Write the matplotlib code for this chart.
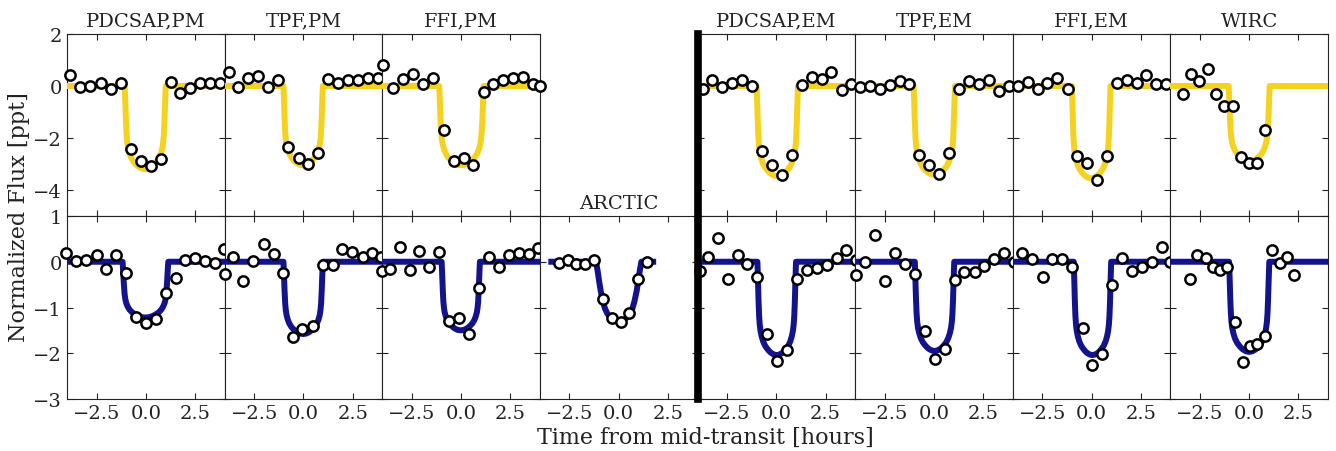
import numpy as np
import matplotlib
matplotlib.use("Agg")
import matplotlib.pyplot as plt
from matplotlib.lines import Line2D

plt.rcParams['font.family'] = ['DejaVu Serif']
plt.rcParams['mathtext.fontset'] = 'dejavuserif'

# ---------------- data ----------------
TOP_TITLES = ["PDCSAP,PM", "TPF,PM", "FFI,PM", "PDCSAP,EM", "TPF,EM", "FFI,EM", "WIRC"]
BOTTOM_TITLES = ["", "", "", "ARCTIC", "", "", "", ""]

# top row (yellow) binned points
top_pdcsap_pm_t = [-3.83, -3.32, -2.81, -2.29, -1.78, -1.27, -0.76, -0.24, 0.27, 0.76, 1.27, 1.76, 2.26, 2.77, 3.26, 3.75]
top_pdcsap_pm_f = [0.41, -0.03, -0.01, 0.13, -0.12, 0.10, -2.41, -2.90, -3.09, -2.81, 0.16, -0.26, -0.07, 0.12, 0.10, 0.10]
top_tpf_pm_t = [-3.79, -3.30, -2.80, -2.29, -1.78, -1.27, -0.76, -0.25, 0.24, 0.75, 1.26, 1.77, 2.27, 2.76, 3.27, 3.76]
top_tpf_pm_f = [0.54, -0.03, 0.29, 0.39, -0.03, 0.25, -2.36, -2.77, -3.00, -2.58, 0.26, 0.10, 0.22, 0.22, 0.29, 0.31]
top_ffi_pm_t = [-3.95, -3.44, -2.93, -2.42, -1.91, -1.40, -0.89, -0.38, 0.13, 0.61, 1.15, 1.63, 2.14, 2.65, 3.16, 3.65, 4.00]
top_ffi_pm_f = [0.79, -0.06, 0.26, 0.48, 0.08, 0.32, -1.69, -2.87, -2.77, -3.05, -0.22, 0.07, 0.25, 0.29, 0.35, 0.07, 0.00]
top_pdcsap_em_t = [-3.73, -3.24, -2.74, -2.23, -1.74, -1.25, -0.74, -0.23, 0.28, 0.79, 1.30, 1.80, 2.31, 2.80, 3.31, 3.80]
top_pdcsap_em_f = [-0.10, 0.22, -0.03, 0.10, 0.25, -0.01, -2.51, -3.05, -3.43, -2.66, 0.03, 0.35, 0.26, 0.54, -0.16, 0.06]
top_tpf_em_t = [-3.73, -3.26, -2.74, -2.23, -1.72, -1.25, -0.74, -0.24, 0.27, 0.78, 1.29, 1.80, 2.29, 2.80, 3.31, 3.80]
top_tpf_em_f = [-0.03, 0.01, -0.12, 0.03, 0.18, 0.06, -2.66, -3.05, -3.37, -2.58, -0.10, 0.18, 0.07, 0.22, -0.20, 0.01]
top_ffi_em_t = [-3.74, -3.23, -2.72, -2.24, -1.73, -1.22, -0.73, -0.23, 0.26, 0.77, 1.28, 1.79, 2.30, 2.77, 3.28, 3.79]
top_ffi_em_f = [0.01, 0.16, -0.10, 0.10, 0.29, -0.10, -2.70, -2.98, -3.62, -2.70, 0.12, 0.25, 0.10, 0.44, 0.07, 0.07]
top_wirc_t = [-3.38, -2.97, -2.54, -2.11, -1.70, -1.28, -0.83, -0.42, 0.00, 0.41, 0.82]
top_wirc_f = [-0.32, 0.48, 0.20, 0.64, -0.29, -0.77, -0.77, -2.73, -2.96, -2.96, -1.71]

# bottom row (blue) binned points
bot_pdcsap_pm_t = [-4.04, -3.53, -3.02, -2.50, -2.03, -1.52, -1.01, -0.52, 0.00, 0.51, 1.02, 1.53, 2.00, 2.51, 3.02, 3.53, 3.99]
bot_pdcsap_pm_f = [0.20, 0.02, 0.04, 0.15, -0.16, 0.14, -0.25, -1.20, -1.33, -1.25, -0.68, -0.35, 0.04, 0.08, 0.02, -0.03, 0.27]
bot_tpf_pm_t = [-4.00, -3.55, -3.05, -2.55, -2.02, -1.51, -1.03, -0.52, -0.05, 0.46, 0.97, 1.48, 1.98, 2.49, 3.00, 3.50, 3.93]
bot_tpf_pm_f = [-0.26, 0.11, -0.41, 0.02, 0.38, 0.18, -0.25, -1.64, -1.46, -1.40, -0.08, -0.08, 0.27, 0.22, 0.10, 0.20, 0.11]
bot_ffi_pm_t = [-4.00, -3.60, -3.10, -2.61, -2.12, -1.61, -1.10, -0.60, -0.09, 0.40, 0.91, 1.40, 1.91, 2.42, 2.93, 3.44, 3.92]
bot_ffi_pm_f = [-0.21, -0.16, 0.33, -0.18, 0.24, -0.12, 0.21, -1.29, -1.24, -1.57, -0.58, 0.11, -0.12, 0.14, 0.19, 0.17, 0.30]
bot_arctic_t = [-3.05, -2.58, -2.15, -1.69, -1.25, -0.79, -0.33, 0.10, 0.52, 0.96, 1.42]
bot_arctic_f = [-0.03, 0.03, -0.05, -0.05, 0.03, -0.82, -1.22, -1.31, -1.13, -0.37, 0.00]
bot_pdcsap_em_t = [-3.87, -3.49, -2.98, -2.47, -1.96, -1.48, -0.97, -0.46, 0.05, 0.54, 1.07, 1.54, 2.05, 2.55, 3.06, 3.55, 4.04]
bot_pdcsap_em_f = [-0.21, 0.10, 0.52, -0.38, 0.15, -0.05, -0.34, -1.59, -2.17, -1.93, -0.38, -0.19, -0.14, -0.07, 0.09, 0.25, 0.04]
bot_tpf_em_t = [-3.97, -3.51, -3.00, -2.49, -1.98, -1.47, -0.96, -0.45, 0.06, 0.54, 1.05, 1.54, 2.07, 2.56, 3.07, 3.55, 4.06]
bot_tpf_em_f = [-0.30, 0.00, 0.59, -0.42, 0.19, -0.05, -0.27, -1.52, -2.12, -1.91, -0.40, -0.23, -0.23, -0.09, 0.06, 0.19, -0.01]
bot_ffi_em_t = [-3.52, -3.01, -2.49, -2.00, -1.49, -0.98, -0.45, 0.04, 0.55, 1.06, 1.55, 2.05, 2.56, 3.07, 3.58, 4.00]
bot_ffi_em_f = [0.19, 0.06, -0.33, 0.06, 0.06, -0.11, -1.44, -2.25, -2.01, -0.51, 0.08, -0.20, -0.11, -0.01, 0.33, -0.01]
bot_wirc_t = [-3.01, -2.64, -2.21, -1.85, -1.47, -1.11, -0.71, -0.32, 0.02, 0.39, 0.78, 1.16, 1.55, 1.93, 2.27]
bot_wirc_f = [-0.38, 0.15, 0.08, -0.12, -0.19, -0.12, -1.31, -2.20, -1.84, -1.80, -1.63, 0.26, -0.03, 0.10, -0.29]

# transit model: half profile (ingress -> mid-transit),
# in units of the half-duration (x) and of the depth (y)
profile_x = [-1.00, -0.97, -0.94, -0.91, -0.88, -0.84, -0.78, -0.70, -0.60, -0.50, -0.40, -0.30, -0.15, 0.00]
profile_y = [0.00, -0.20, -0.42, -0.58, -0.67, -0.74, -0.80, -0.855, -0.90, -0.93, -0.955, -0.975, -0.994, -1.00]
arctic_profile_x = [-1.00, -0.93, -0.86, -0.79, -0.70, -0.61, -0.50, -0.31, -0.15, 0.00]
arctic_profile_y = [0.00, -0.15, -0.33, -0.49, -0.65, -0.77, -0.86, -0.94, -0.985, -1.00]

top_depth = [3.20, 3.05, 3.05, 3.47, 3.42, 3.55, 2.90]
top_halfwidth = [1.04, 1.00, 1.13, 1.05, 1.05, 0.98, 1.04]
top_center = [-0.03, -0.015, 0.02, 0.05, 0.02, -0.02, 0.00]
bot_depth = [1.22, 1.58, 1.50, 1.32, 2.04, 1.95, 2.04, 1.97]
bot_halfwidth = [1.16, 1.00, 0.97, 1.15, 0.98, 1.00, 0.95, 1.02]
bot_center = [-0.02, -0.015, -0.015, 0.00, 0.02, 0.03, 0.045, 0.00]
model_span = [-4.0, 4.0]
arctic_span = [-3.42, 1.75]

x_ticks = [-2.5, 0.0, 2.5]
top_yticks = [-4, -2, 0, 2]
bot_yticks = [-3, -2, -1, 0, 1]

# ---------------- styling ----------------
YELLOW = '#F5D21F'
NAVY = '#13138C'
TXT = '#222222'
W, H = 1336, 452
fig = plt.figure(figsize=(W / 100, H / 100), dpi=100)

left_px, right_px = 67, 1328
top_px, mid_px, bot_px = 35, 217, 400
col_w = (right_px - left_px) / 8


def ax_rect(col, y0, y1):
    return [(left_px + col * col_w) / W, 1 - y1 / H, col_w / W, (y1 - y0) / H]


def model_curve(depth, hw, c, span, px, py):
    px = np.asarray(px); py = np.asarray(py)
    xs = np.concatenate([[span[0]], c + hw * px, c - hw * px[::-1][1:], [span[1]]])
    ys = np.concatenate([[0.0], depth * py, depth * py[::-1][1:], [0.0]])
    return xs, ys


def style_axes(ax, yticks, ylim, show_x, show_y):
    ax.set_xlim(-4, 4)
    ax.set_ylim(*ylim)
    ax.set_xticks(x_ticks)
    ax.set_yticks(yticks)
    ax.tick_params(direction='in', top=True, right=True, length=4, width=0.8,
                   labelsize=14, colors=TXT, labelcolor=TXT)
    if not show_x:
        ax.tick_params(labelbottom=False)
    if not show_y:
        ax.tick_params(labelleft=False)
    for s in ax.spines.values():
        s.set_linewidth(0.8)
        s.set_color(TXT)


def plot_points(ax, t, f):
    ax.plot(t, f, 'o', ms=7.4, mfc='white', mec='black', mew=1.8,
            clip_on=False, zorder=5)


top_cols = [0, 1, 2, 4, 5, 6, 7]
top_data = [(top_pdcsap_pm_t, top_pdcsap_pm_f), (top_tpf_pm_t, top_tpf_pm_f),
            (top_ffi_pm_t, top_ffi_pm_f), (top_pdcsap_em_t, top_pdcsap_em_f),
            (top_tpf_em_t, top_tpf_em_f), (top_ffi_em_t, top_ffi_em_f),
            (top_wirc_t, top_wirc_f)]
bot_data = [(bot_pdcsap_pm_t, bot_pdcsap_pm_f), (bot_tpf_pm_t, bot_tpf_pm_f),
            (bot_ffi_pm_t, bot_ffi_pm_f), (bot_arctic_t, bot_arctic_f),
            (bot_pdcsap_em_t, bot_pdcsap_em_f), (bot_tpf_em_t, bot_tpf_em_f),
            (bot_ffi_em_t, bot_ffi_em_f), (bot_wirc_t, bot_wirc_f)]

# top row
for i, col in enumerate(top_cols):
    ax = fig.add_axes(ax_rect(col, top_px, mid_px))
    xs, ys = model_curve(top_depth[i], top_halfwidth[i], top_center[i], model_span,
                         profile_x, profile_y)
    ax.plot(xs, ys, color=YELLOW, lw=4.3, solid_joinstyle='round', zorder=3)
    t, f = top_data[i]
    plot_points(ax, t, f)
    style_axes(ax, top_yticks, (-5, 2), False, col == 0)
    ax.set_title(TOP_TITLES[i], fontsize=14, pad=6, color=TXT)

# bottom row
for col in range(8):
    ax = fig.add_axes(ax_rect(col, mid_px, bot_px))
    if col == 3:
        xs, ys = model_curve(bot_depth[col], bot_halfwidth[col], bot_center[col], arctic_span,
                             arctic_profile_x, arctic_profile_y)
    else:
        xs, ys = model_curve(bot_depth[col], bot_halfwidth[col], bot_center[col], model_span,
                             profile_x, profile_y)
    ax.plot(xs, ys, color=NAVY, lw=4.3, solid_joinstyle='round', zorder=3)
    t, f = bot_data[col]
    plot_points(ax, t, f)
    style_axes(ax, bot_yticks, (-3, 1), True, col == 0)
    if BOTTOM_TITLES[col]:
        ax.set_title(BOTTOM_TITLES[col], fontsize=14, pad=6, color=TXT)

# thick separator line
xsep = 698 / W
fig.add_artist(Line2D([xsep, xsep], [1 - bot_px / H, 1 - top_px / H],
                      transform=fig.transFigure, color='black', lw=5.5, zorder=10))

fig.text(19 / W, 1 - 217 / H, 'Normalized Flux [ppt]', rotation=90, ha='center', va='center',
         fontsize=16, color=TXT)
fig.text(705 / W, 1 - 438 / H, 'Time from mid-transit [hours]', ha='center', va='center',
         fontsize=16, color=TXT)

fig.savefig('out.png', dpi=100)
